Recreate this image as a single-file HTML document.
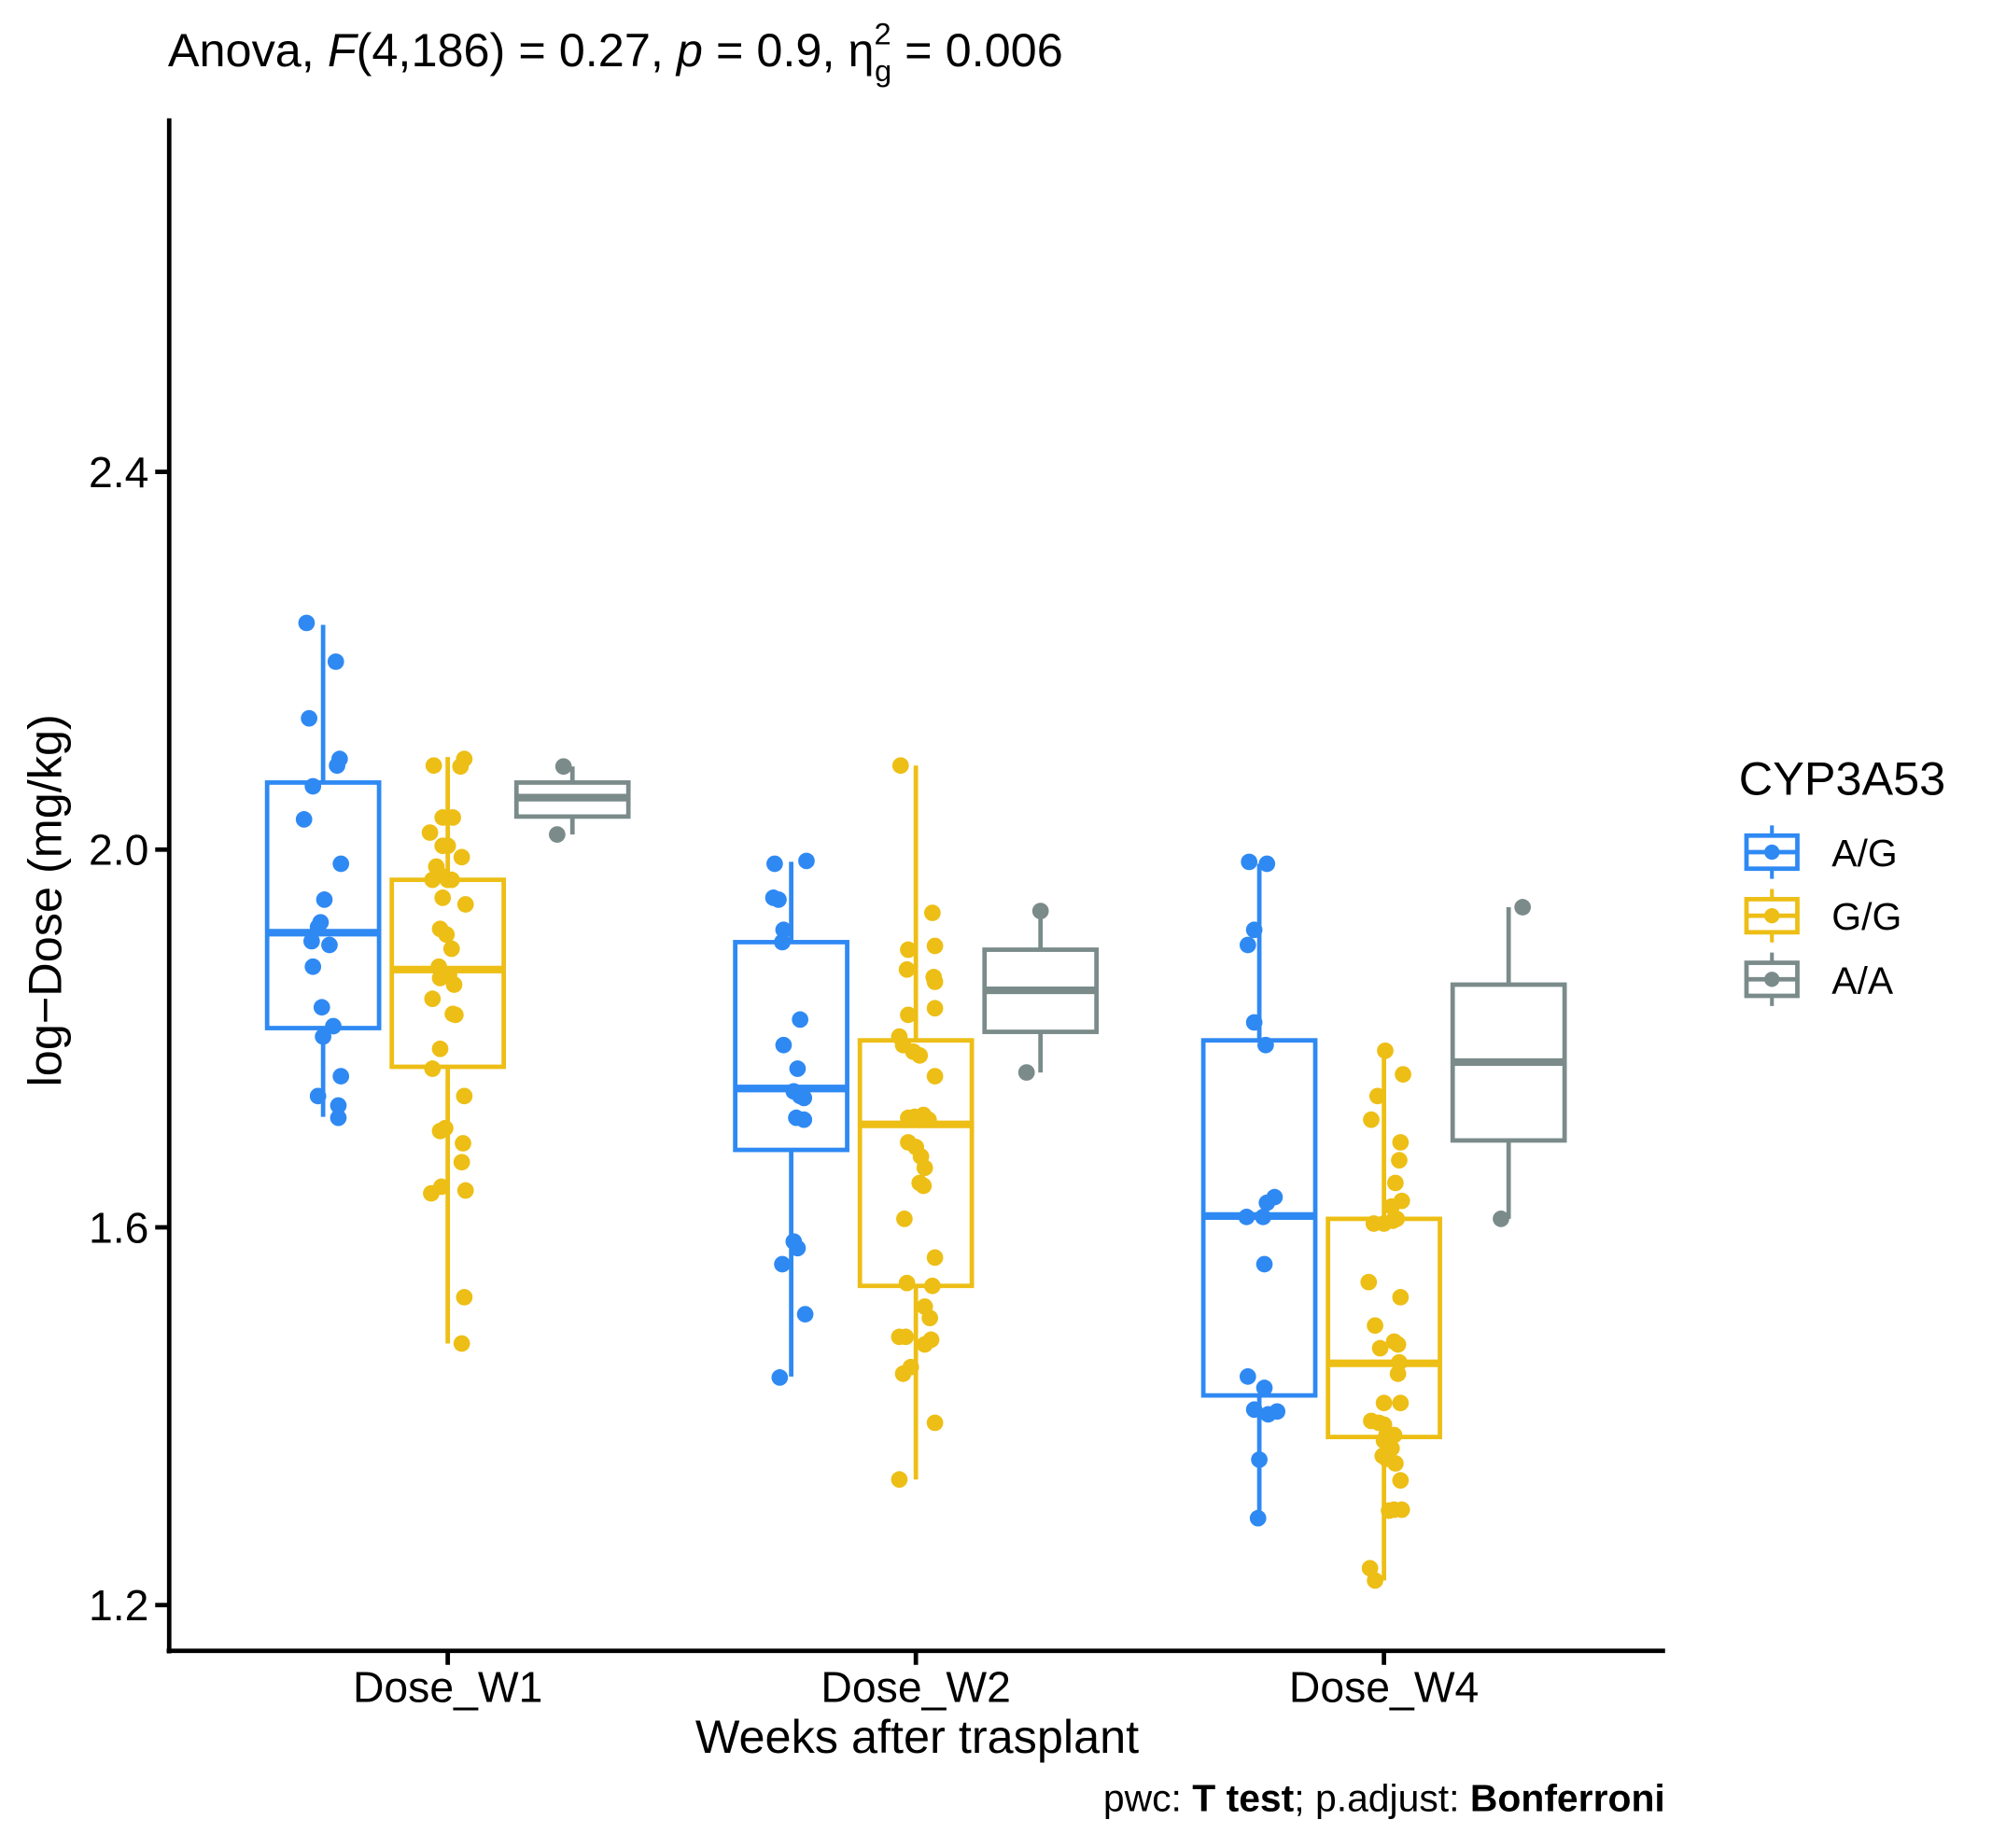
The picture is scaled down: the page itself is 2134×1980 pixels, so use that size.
<!DOCTYPE html>
<html><head><meta charset="utf-8">
<style>
html,body{margin:0;padding:0;background:#fff;}
svg{display:block;font-family:"Liberation Sans",Arial,sans-serif;}
</style></head>
<body>
<svg id="chart" width="2134" height="1980" viewBox="0 0 1566 1453" xmlns="http://www.w3.org/2000/svg">
<text x="132" y="52" font-size="37" fill="#000">Anova, <tspan font-style="italic">F</tspan>(4,186) = 0.27, <tspan font-style="italic">p</tspan> = 0.9, η<tspan font-size="24" dy="-17">2</tspan><tspan font-size="24" dx="-13" dy="29">g</tspan><tspan dy="-12"> = 0.006</tspan></text>
<g id="plot"></g>
<line x1="133" y1="93" x2="133" y2="1300" stroke="#000" stroke-width="3.5"/>
<line x1="131" y1="1298" x2="1309" y2="1298" stroke="#000" stroke-width="3.5"/>
<g id="yticks"></g>
<g id="xticks"></g>
<text x="721" y="1378" font-size="37" text-anchor="middle">Weeks after trasplant</text>
<text transform="translate(48,708) rotate(-90)" font-size="37" text-anchor="middle">log−Dose (mg/kg)</text>
<text x="1309" y="1424" font-size="30" text-anchor="end">pwc: <tspan font-weight="bold">T test</tspan>; p.adjust: <tspan font-weight="bold">Bonferroni</tspan></text>
<g id="legend">
<text x="1367" y="625" font-size="37">CYP3A53</text>
</g>
</svg>
<script>
const categories = ["Dose_W1","Dose_W2","Dose_W4"];
const groups = ["A/G","G/G","A/A"];
const colors = ["#2F89F3","#EDBE15","#7A8B8A"];
const yTicks = [1.2,1.6,2.0,2.4];
// box stats [whiskerLow, Q1, median, Q3, whiskerHigh] per category per group
const boxAG = [[1.717,1.811,1.912,2.071,2.238],[1.442,1.682,1.747,1.902,1.987],[1.292,1.422,1.612,1.798,1.985]];
const boxGG = [[1.477,1.770,1.873,1.968,2.098],[1.333,1.538,1.709,1.798,2.089],[1.226,1.378,1.456,1.609,1.787]];
const boxAA = [[2.016,2.035,2.055,2.071,2.088],[1.764,1.807,1.851,1.894,1.935],[1.609,1.692,1.775,1.857,1.939]];
// points values
const ptsAG_W1 = [2.240,2.199,2.139,2.096,2.089,2.067,2.032,1.985,1.947,1.923,1.918,1.903,1.899,1.876,1.833,1.813,1.802,1.760,1.739,1.729,1.716];
const jitAG_W1 = [-13,10,-11,13,11,-8,-15,14,1,-2,-4,-9,5,-8,-1,8,0,14,-4,12,12];
const ptsGG_W1 = [2.089,2.096,2.088,2.034,2.034,2.018,2.004,2.004,1.992,1.982,1.973,1.968,1.968,1.968,1.942,1.949,1.916,1.910,1.895,1.876,1.867,1.864,1.857,1.842,1.825,1.826,1.789,1.768,1.739,1.705,1.702,1.689,1.669,1.636,1.643,1.639,1.526,1.477];
const jitGG_W1 = [-11,13,10,-4,4,-14,-4,0,11,-9,-6,0,-12,3,14,-4,-6,-1,3,-7,1,-6,5,-12,6,4,-6,-12,13,-2,-6,12,11,-13,-5,14,13,11];
const ptsAA_W1 = [2.088,2.016];
const jitAA_W1 = [-7,-12];
const ptsAG_W2 = [1.985,1.988,1.949,1.947,1.915,1.902,1.820,1.793,1.768,1.739,1.744,1.737,1.716,1.714,1.585,1.578,1.561,1.508,1.441];
const jitAG_W2 = [-13,12,-14,-10,-6,-7,7,-6,5,7,2,10,4,10,2,5,-7,11,-9];
const ptsGG_W2 = [2.089,1.933,1.894,1.898,1.873,1.865,1.860,1.825,1.832,1.802,1.793,1.782,1.786,1.760,1.719,1.717,1.716,1.714,1.690,1.685,1.675,1.663,1.644,1.647,1.609,1.568,1.541,1.538,1.516,1.504,1.484,1.484,1.481,1.476,1.452,1.445,1.393,1.333];
const jitGG_W2 = [-12,13,-6,15,-7,14,15,-6,15,-13,-10,3,-2,15,6,-1,-6,10,-6,0,4,7,6,3,-9,15,-7,13,7,11,-13,-8,12,7,-4,-10,15,-13];
const ptsAA_W2 = [1.935,1.764];
const jitAA_W2 = [0,-11];
const ptsAG_W4 = [1.987,1.985,1.915,1.899,1.817,1.793,1.632,1.626,1.611,1.611,1.561,1.442,1.430,1.407,1.402,1.405,1.354,1.292];
const jitAG_W4 = [-8,6,-4,-9,-4,5,12,6,-10,3,4,-9,4,-4,7,14,0,-1];
const ptsGG_W4 = [1.787,1.762,1.739,1.714,1.690,1.671,1.647,1.628,1.622,1.604,1.604,1.607,1.609,1.542,1.526,1.496,1.479,1.476,1.472,1.457,1.445,1.414,1.414,1.395,1.393,1.391,1.380,1.380,1.374,1.366,1.358,1.355,1.350,1.332,1.301,1.300,1.301,1.239,1.226];
const jitGG_W4 = [1,15,-5,-10,13,12,9,14,6,-8,0,7,10,-12,13,-7,8,11,-3,12,11,0,13,-10,-4,0,2,8,0,6,-1,2,9,13,8,4,14,-11,-7];
const ptsAA_W4 = [1.939,1.609];
const jitAA_W4 = [11,-6];

const boxes = [boxAG, boxGG, boxAA];
const pts = [[ptsAG_W1,ptsAG_W2,ptsAG_W4],[ptsGG_W1,ptsGG_W2,ptsGG_W4],[ptsAA_W1,ptsAA_W2,ptsAA_W4]];
const jits = [[jitAG_W1,jitAG_W2,jitAG_W4],[jitGG_W1,jitGG_W2,jitGG_W4],[jitAA_W1,jitAA_W2,jitAA_W4]];

const NS = "http://www.w3.org/2000/svg";
function yScale(v){ return 668 - (v - 2.0) * 742.5; }
function xScale(ci){ return 352 + ci * 368; }
const dodge = 98, bw = 88;
function mk(tag, attrs, parent){ const e = document.createElementNS(NS, tag); for (const k in attrs) e.setAttribute(k, attrs[k]); parent.appendChild(e); return e; }

const plot = document.getElementById('plot');
categories.forEach((c, ci) => {
  groups.forEach((g, gi) => {
    const cx = xScale(ci) + (gi - 1) * dodge;
    const b = boxes[gi][ci];
    const col = colors[gi];
    const grp = mk('g', {}, plot);
    
    
    const w1 = mk('line', {x1:cx, x2:cx, y1:yScale(b[4]), y2:yScale(b[3]), stroke:col, 'stroke-width':3.5}, grp);
    
    
    const w2 = mk('line', {x1:cx, x2:cx, y1:yScale(b[1]), y2:yScale(b[0]), stroke:col, 'stroke-width':3.5}, grp);
    
    
    const r = mk('rect', {x:cx - bw/2, y:yScale(b[3]), width:bw, height:yScale(b[1]) - yScale(b[3]), fill:'#fff', stroke:col, 'stroke-width':3.5}, grp);
    
    
    const m = mk('line', {x1:cx - bw/2, x2:cx + bw/2, y1:yScale(b[2]), y2:yScale(b[2]), stroke:col, 'stroke-width':6}, grp);
    
    
    const p = pts[gi][ci], j = jits[gi][ci];
    p.forEach((v, k) => {
      const dot = mk('circle', {cx:cx + (j[k] || 0), cy:yScale(v), r:6.5, fill:col}, grp);
      
      
    });
  });
});

const yt = document.getElementById('yticks');
yTicks.forEach(t => {
  const y = yScale(t);
  const l = mk('line', {x1:122, x2:133, y1:y, y2:y, stroke:'#000', 'stroke-width':3.5}, yt);
  
  
  const tx = mk('text', {x:117, y:y + 12, 'font-size':34, 'text-anchor':'end'}, yt);
  tx.textContent = t.toFixed(1);
  
  
});
const xt = document.getElementById('xticks');
categories.forEach((c, ci) => {
  const x = xScale(ci);
  const l = mk('line', {x1:x, x2:x, y1:1298, y2:1309, stroke:'#000', 'stroke-width':3.5}, xt);
  
  
  const tx = mk('text', {x:x, y:1338, 'font-size':34, 'text-anchor':'middle'}, xt);
  tx.textContent = c;
  
  
});

const lg = document.getElementById('legend');
groups.forEach((g, gi) => {
  const cy = 670 + gi * 50;
  const col = colors[gi];
  const e = mk('g', {}, lg);
  
  
  mk('line', {x1:1393, x2:1393, y1:cy - 21, y2:cy + 21, stroke:col, 'stroke-width':3}, e);
  mk('rect', {x:1373, y:cy - 13, width:40, height:26, fill:'#fff', stroke:col, 'stroke-width':3.5}, e);
  mk('line', {x1:1373, x2:1413, y1:cy, y2:cy, stroke:col, 'stroke-width':3.5}, e);
  mk('circle', {cx:1393, cy:cy, r:6, fill:col}, e);
  const tx = mk('text', {x:1440, y:cy + 11, 'font-size':30}, e);
  tx.textContent = g;
  
  
});
</script>
</body></html>
